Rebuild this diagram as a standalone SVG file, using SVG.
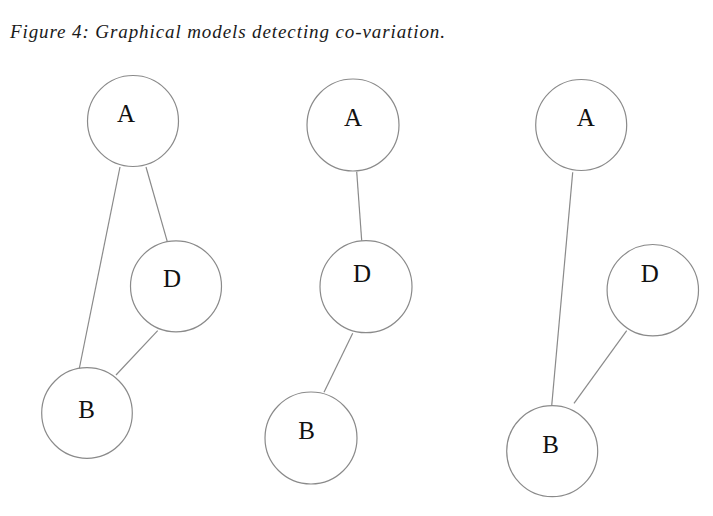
<svg xmlns="http://www.w3.org/2000/svg" width="713" height="516" viewBox="0 0 713 516">
<style>
.n{fill:#ffffff;stroke:#8a8a8a;stroke-width:1.2}
.e{stroke:#8a8a8a;stroke-width:1.2;fill:none}
.t{font-family:"Liberation Serif","Times New Roman",serif;font-size:25px;fill:#111111;text-anchor:middle}
.title{font-family:"Liberation Serif","Times New Roman",serif;font-size:19px;font-style:italic;fill:#1a1a1a}
</style>
<rect width="713" height="516" fill="#ffffff"/>
<text class="title" x="10" y="38.3" textLength="435" lengthAdjust="spacing">Figure 4: Graphical models detecting co-variation.</text>
<g id="connectors">
<line class="e" x1="120" y1="167" x2="79" y2="370"/>
<line class="e" x1="146" y1="167" x2="167.3" y2="241.7"/>
<line class="e" x1="157.7" y1="330.7" x2="116" y2="375"/>
<line class="e" x1="356.7" y1="171.7" x2="361.7" y2="240.7"/>
<line class="e" x1="352.7" y1="333.3" x2="324" y2="392.3"/>
<line class="e" x1="572.7" y1="172.3" x2="551.7" y2="405.7"/>
<line class="e" x1="626.7" y1="330.7" x2="574" y2="403.3"/>
</g>
<g id="g1-A"><circle class="n" cx="133" cy="121" r="45.5"/><text class="t" x="126" y="121.5">A</text></g>
<g id="g1-D"><circle class="n" cx="176" cy="286.3" r="45.5"/><text class="t" x="172" y="287.3">D</text></g>
<g id="g1-B"><circle class="n" cx="87" cy="413" r="45.3"/><text class="t" x="86.5" y="418">B</text></g>
<g id="g2-A"><circle class="n" cx="353" cy="125" r="46"/><text class="t" x="353" y="125.7">A</text></g>
<g id="g2-D"><circle class="n" cx="366" cy="286.7" r="46"/><text class="t" x="362" y="282.3">D</text></g>
<g id="g2-B"><circle class="n" cx="311" cy="438" r="46"/><text class="t" x="306.7" y="439">B</text></g>
<g id="g3-A"><circle class="n" cx="581.2" cy="125" r="45.5"/><text class="t" x="585.7" y="125.7">A</text></g>
<g id="g3-D"><circle class="n" cx="652.8" cy="290.2" r="45.7"/><text class="t" x="649.7" y="282.3">D</text></g>
<g id="g3-B"><circle class="n" cx="552.2" cy="451.2" r="45.5"/><text class="t" x="550.7" y="453.3">B</text></g>
</svg>
